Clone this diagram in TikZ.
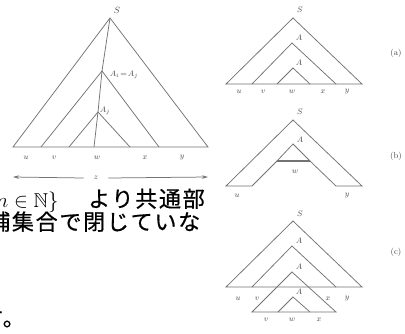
\documentclass[tikz,border=0pt]{standalone}
\usepackage{fontspec}
\usepackage{amssymb}
\usetikzlibrary{arrows.meta}
\newfontfamily\jpfont[FakeBold=0.6,LetterSpace=8]{Noto Sans CJK JP}
\definecolor{ln}{RGB}{115,115,115}
\definecolor{lb}{RGB}{75,75,75}
\begin{document}
\begin{tikzpicture}[x=1pt,y=-1pt,
  tree/.style={draw=ln, line width=0.75pt, line join=miter},
  lab/.style={text=lb, inner sep=0pt, font=\fontsize{8.5}{9}\selectfont},
  biglab/.style={text=lb, inner sep=0pt, font=\fontsize{9.5}{11}\selectfont},
  tag/.style={text=lb, inner sep=0pt, font=\fontsize{8.5}{9}\selectfont},
  jp/.style={anchor=base west, inner sep=0pt, font=\jpfont\fontsize{22}{24}\selectfont},
  zarrow/.style={draw=ln, line width=0.75pt, -{Stealth[length=6pt,width=3.5pt]}}]
\useasboundingbox (0,0) rectangle (405,333);
\fill[white] (0,0) rectangle (405,333);

% ---------- left big tree ----------
\coordinate (S) at (110,18);
\coordinate (Ai) at (102,71);
\coordinate (Aj) at (98,112);
\coordinate (L0) at (13,147);
\coordinate (R0) at (208,147);
\draw[tree] (L0) -- (S) -- (R0) -- cycle;
\draw[tree] (41,147) -- (Ai) -- (159,147);
\draw[tree] (69,147) -- (Aj) -- (130,147);
\draw[tree] (S) -- (Ai) -- (Aj) -- (94,147);
\node[biglab] (lS) at (117,10) {$S$};
\node[lab] (lAiAj) at (124,75) {$A_i\!=\!A_j$};
\node[lab] (lAj) at (105,111) {$A_j$};
\node[lab] (lu) at (26,158) {$u$};
\node[lab] (lv) at (54,158) {$v$};
\node[lab] (lw) at (97,158) {$w$};
\node[lab] (lx) at (145,158) {$x$};
\node[lab] (ly) at (182,158) {$y$};
\node[lab] (lz) at (96,178) {$z$};
\coordinate (zl) at (13,177);
\coordinate (zr) at (208,177);
\draw[zarrow] (lz.west) ++(-10,0) -- (zl);
\draw[zarrow] (lz.east) ++(10,0) -- (zr);

% ---------- (a) ----------
\coordinate (Sa) at (293,18);
\draw[tree] (226,84) -- (Sa) -- (362,84) -- cycle;
\draw[tree] (252,84) -- (292,43) -- (336,84);
\draw[tree] (277,84) -- (293,68) -- (310,84);
\node[lab] (aS) at (300,10) {$S$};
\node[lab] (aA1) at (299,38) {$A$};
\node[lab] (aA2) at (299,63) {$A$};
\node[lab] (au) at (239,92) {$u$};
\node[lab] (av) at (263,92) {$v$};
\node[lab] (aw) at (292,92) {$w$};
\node[lab] (ax) at (323,92) {$x$};
\node[lab] (ay) at (347,92) {$y$};
\node[tag] (ta) at (396,53) {(a)};

% ---------- (b) ----------
\coordinate (Sb) at (293,120);
\draw[tree] (252,186) -- (226,186) -- (Sb) -- (362,186) -- (336,186) -- (310,161) -- (277,161) -- cycle;
\draw[tree] (277,161) -- (293,144) -- (310,161);
\draw[draw=ln, line width=1.4pt] (277,161) -- (310,161);
\node[lab] (bS) at (300,112) {$S$};
\node[lab] (bA) at (300,140) {$A$};
\node[lab] (bw) at (295,172) {$w$};
\node[lab] (bu) at (237,196) {$u$};
\node[lab] (by) at (347,196) {$y$};
\node[tag] (tb) at (396,156) {(b)};

% ---------- (c) ----------
\coordinate (Sc) at (293,221);
\draw[tree] (226,287) -- (Sc) -- (362,287) -- cycle;
\draw[tree] (252,287) -- (292,246) -- (336,287);
\draw[tree] (252,312) -- (292,272) -- (336,312) -- cycle;
\draw[tree] (278,312) -- (293,297) -- (310,312);
\node[lab] (cS) at (300,214) {$S$};
\node[lab] (cA1) at (299,241) {$A$};
\node[lab] (cA2) at (299,267) {$A$};
\node[lab] (cA3) at (299,292) {$A$};
\node[lab] (cu) at (238,299) {$u$};
\node[lab] (cv) at (257,299) {$v$};
\node[lab] (cx) at (328,299) {$x$};
\node[lab] (cy) at (347,299) {$y$};
\node[lab] (cv2) at (266,320) {$v$};
\node[lab] (cw2) at (292,320) {$w$};
\node[lab] (cx2) at (319,320) {$x$};
\node[tag] (tc) at (396,252) {(c)};

% ---------- text fragment ----------
\begin{scope}
\clip (0,186) rectangle (211,333);
\node[anchor=base west, inner sep=0pt, font=\fontsize{20}{24}\selectfont] (m1) at (-4,207) {$n\in\mathbb{N}\}$};
\node[jp] (j1) at (88,207) {より共通部};
\node[jp] (j2) at (-12,230) {補集合で閉じていな};
\node[jp] (j3) at (-19,326) {す。};
\end{scope}
\end{tikzpicture}
\end{document}
